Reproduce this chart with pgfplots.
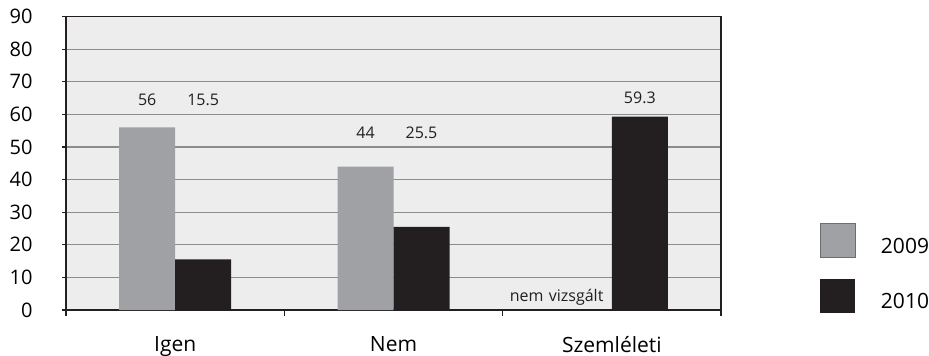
\documentclass[border=0pt]{standalone}
\usepackage{pgfplots}
\pgfplotsset{compat=1.18}
\usepackage{fontspec}
\setmainfont{Open Sans}
\definecolor{bg}{HTML}{EDEDED}
\definecolor{gA}{HTML}{A0A1A4}
\definecolor{gAedge}{HTML}{6E6E70}
\definecolor{bB}{HTML}{231F20}
\definecolor{gridc}{HTML}{8C8C8C}
\newcommand\tickfont{\fontsize{10}{12}\selectfont}
\newcommand\catfont{\fontsize{10.5}{12}\selectfont}
\newcommand\valfont{\fontsize{8}{9}\selectfont}
\begin{document}
\begin{tikzpicture}
\useasboundingbox (-33pt,-22.5pt) rectangle (431.5pt,155pt);
\begin{axis}[
  at={(0,0)}, anchor=south west,
  scale only axis, width=327.5pt, height=146.75pt,
  xmin=-0.5, xmax=2.5, ymin=0, ymax=90,
  axis background/.style={fill=bg},
  axis line style={bB, line width=0.6pt},
  ybar, bar width=28pt,
  xtick={0,1,2}, xticklabels={Igen,Nem,Szemléleti},
  major x tick style={draw=none},
  xtick pos=bottom, ytick pos=left,
  extra x ticks={-0.5,0.5,1.5,2.5}, extra x tick labels={},
  extra x tick style={major tick length=3pt, major x tick style={draw=bB, line width=0.6pt}, grid=none},
  ytick={0,10,...,90},
  ymajorgrids, grid style={gridc, line width=0.6pt},
  tick align=outside, major tick length=2pt,
  y tick style={bB, line width=0.6pt},
  /pgf/number format/assume math mode=true,
  yticklabel style={font=\tickfont, inner sep=0pt, xshift=-14.5pt},
  xticklabel style={font=\catfont, inner sep=0pt, anchor=north, yshift=-11pt},
  legend style={draw=none, fill=none, inner sep=0pt, outer sep=0pt,
    at={(1.1511,0.2964)}, anchor=north west,
    row sep=10.25pt, column sep=12.5pt,
    nodes={inner sep=0pt, outer sep=0pt}, font=\catfont},
  legend cell align=left,
]
\addplot[fill=gA, draw=none, bar shift=-14pt,
  legend image code/.code={\filldraw[fill=gA, draw=gAedge, line width=0.5pt] (0pt,-5pt) rectangle (17.5pt,12pt);}]
  coordinates {(0,56) (1,44)};
\addlegendentry{2009}
\addplot[fill=bB, draw=none, bar shift=14pt,
  legend image code/.code={\fill[bB] (0pt,-5pt) rectangle (17.5pt,12pt);}]
  coordinates {(0,15.5) (1,25.5) (2,59.3)};
\addlegendentry{2010}
\node[font=\valfont, text=bB, xshift=-14pt] at (axis cs:0,64.5) {56};
\node[font=\valfont, text=bB, xshift=14pt] at (axis cs:0,64.5) {15.5};
\node[font=\valfont, text=bB, xshift=-14pt] at (axis cs:1,54.3) {44};
\node[font=\valfont, text=bB, xshift=14pt] at (axis cs:1,54.3) {25.5};
\node[font=\valfont, text=bB, xshift=14pt] at (axis cs:2,65) {59.3};
\node[font=\valfont, text=bB, fill=bg, anchor=east, inner xsep=4pt, inner ysep=0pt,
  minimum height=11.5pt, text width=70pt, align=right] at (axis cs:2,3.8) {nem vizsgált};
\end{axis}
\end{tikzpicture}
\end{document}
